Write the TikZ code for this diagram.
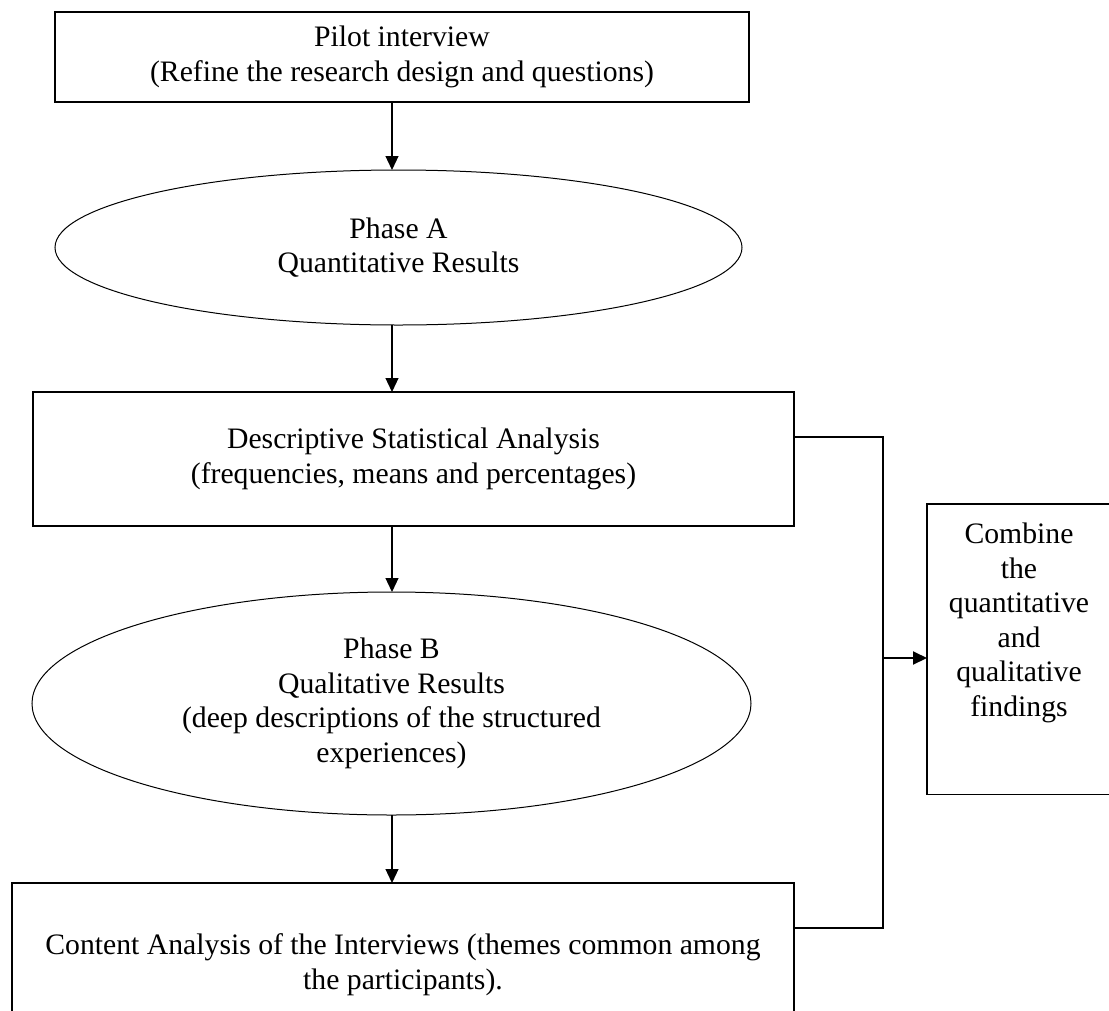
\documentclass[tikz,border=0pt]{standalone}
\usepackage{fontspec}
\setmainfont{Liberation Serif}
\usetikzlibrary{shapes.geometric,arrows.meta}
\begin{document}
\begin{tikzpicture}[x=1pt,y=-1pt,
  every node/.style={inner sep=0pt,outer sep=0pt,align=center,
    font=\fontsize{29.7}{34.5}\selectfont},
  boxnode/.style={draw,line width=1.2pt,rectangle},
  ellnode/.style={draw,line width=1pt,ellipse},
  arr/.style={line width=1.2pt,-{Triangle[length=14pt,width=13pt]}},
  thickarr/.style={line width=2pt,-{Triangle[length=14pt,width=13pt]}},
  conn/.style={line width=1.2pt}]
\useasboundingbox (0,0) rectangle (1109,1010);
\fill[white] (0,0) rectangle (1109,1010);
\clip (0,0) rectangle (1109,1010);

\node[boxnode,minimum width=694pt,minimum height=90pt] (pilot) at (402,57)
  {Pilot interview\\(Refine the research design and questions)};
\node[ellnode,minimum width=687pt,minimum height=155pt] (phaseA) at (398.5,247.5)
  {Phase A\\Quantitative Results};
\node[boxnode,minimum width=761pt,minimum height=134pt] (desc) at (413.5,459)
  {Descriptive Statistical Analysis\\(frequencies, means and percentages)};
\node[ellnode,minimum width=719pt,minimum height=223pt] (phaseB) at (391.5,703.5)
  {Phase B\\Qualitative Results\\(deep descriptions of the structured\\experiences)};
\node[boxnode,minimum width=782pt,minimum height=163pt] (content) at (403,964.5)
  {Content Analysis of the Interviews (themes common among\\the participants).};
\node[boxnode,minimum width=183pt,minimum height=290.5pt] (combine) at (1018.5,649.25) {};
\node[anchor=north] (combinetext) at (1019,523)
  {Combine\\the\\quantitative\\and\\qualitative\\findings};

\coordinate (cx) at (392,0);
\coordinate (jx) at (883,0);
\coordinate (jtop) at (883,437);
\coordinate (jbot) at (883,928);
\coordinate (jmid) at (883,658);

\draw[arr] (pilot.south -| cx) -- (phaseA.north -| cx);
\draw[arr] (phaseA.south -| cx) -- (desc.north -| cx);
\draw[arr] (desc.south -| cx) -- (phaseB.north -| cx);
\draw[arr] (phaseB.south -| cx) -- (content.north -| cx);

\draw[conn] (desc.east |- jtop) -- (jtop) -- (jbot) -- (content.east |- jbot);
\draw[thickarr] (jmid) -- (combine.west |- jmid);
\end{tikzpicture}
\end{document}
